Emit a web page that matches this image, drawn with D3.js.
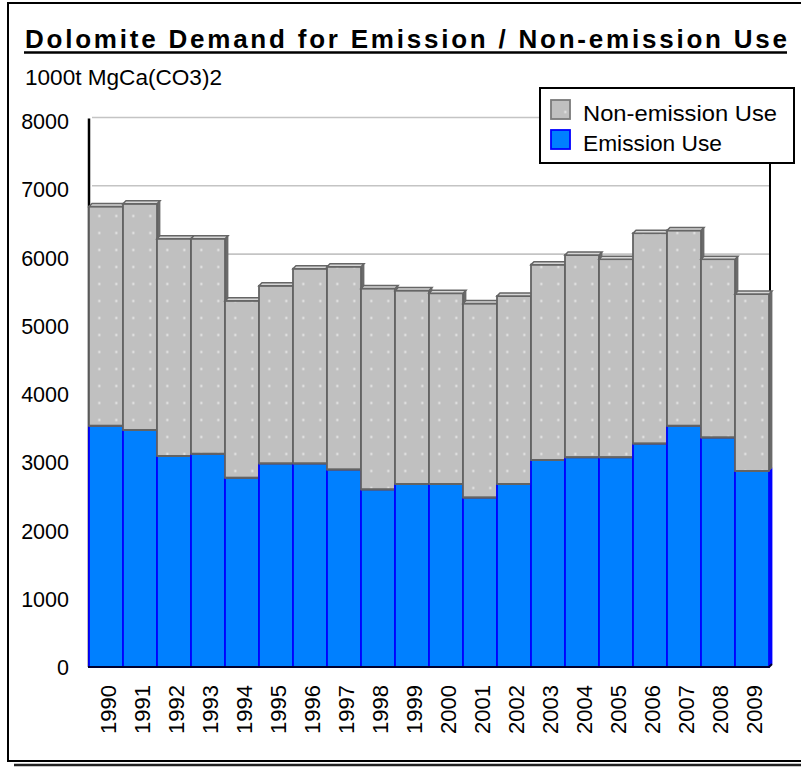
<!DOCTYPE html>
<html>
<head>
<meta charset="utf-8">
<script src="https://cdn.jsdelivr.net/npm/d3@7/dist/d3.min.js"></script>
<style>
  html, body { margin: 0; padding: 0; background: #fff; }
  svg { display: block; }
</style>
</head>
<body>
<svg id="chart" width="801" height="767"></svg>
<script>
// Dolomite demand, thousand tonnes MgCa(CO3)2
const years = ["1990","1991","1992","1993","1994","1995","1996","1997","1998","1999",
               "2000","2001","2002","2003","2004","2005","2006","2007","2008","2009"];
const emission    = [3530,3470,3090,3120,2770,2980,2980,2890,2600,2680,
                     2680,2480,2680,3030,3070,3070,3270,3530,3360,2870];
const nonEmission = [3210,3310,3180,3150,2590,2600,2850,2970,2940,2830,
                     2790,2840,2750,2860,2960,2900,3080,2860,2610,2590];
const yTicks = [0,1000,2000,3000,4000,5000,6000,7000,8000];
const seriesNames = ["Non-emission Use", "Emission Use"];

const svg = d3.select("#chart");
const depth = 3;
const font = "'Liberation Sans', Arial, sans-serif";

const x = d3.scaleBand().domain(years).range([89, 769]).padding(0);
const y = d3.scaleLinear().domain([0, 8000]).range([667, 120.5]);

// pattern: light dots on grey
const defs = svg.append("defs");
const pat = defs.append("pattern")
  .attr("id", "dots")
  .attr("patternUnits", "userSpaceOnUse")
  .attr("width", 17).attr("height", 17)
  .attr("x", x.range()[0] + 1.8)
  .attr("y", y(8000) - 15);
pat.append("rect").attr("width", 17).attr("height", 17).attr("fill", "#c0c0c0");
pat.append("rect").attr("x", 7.5).attr("y", 7.5).attr("width", 2).attr("height", 2).attr("fill", "#ececec");

// outer frame with shadow
svg.append("line").attr("x1", 14).attr("x2", 801).attr("y1", 765).attr("y2", 765)
  .attr("stroke", "#222").attr("stroke-width", 2.5);
svg.append("rect").attr("x", 8).attr("y", 3).attr("width", 830).attr("height", 758)
  .attr("fill", "#fff").attr("stroke", "#000").attr("stroke-width", 2);

// title
svg.append("text")
  .attr("x", 25).attr("y", 48)
  .attr("font-family", font).attr("font-size", 26).attr("font-weight", "bold")
  .attr("textLength", 762).attr("lengthAdjust", "spacing")
  .text("Dolomite Demand for Emission / Non-emission Use");
svg.append("line").attr("x1", 24).attr("x2", 787).attr("y1", 52.5).attr("y2", 52.5)
  .attr("stroke", "#000").attr("stroke-width", 2.5);

// unit label
svg.append("text")
  .attr("x", 25).attr("y", 85)
  .attr("font-family", font).attr("font-size", 22)
  .attr("textLength", 197).attr("lengthAdjust", "spacingAndGlyphs")
  .text("1000t MgCa(CO3)2");

const plot = svg.append("g");
const [xl, xr] = x.range();

// back wall gridlines
plot.selectAll("line.grid")
  .data(yTicks.filter(v => v > 0))
  .join("line").attr("class", "grid")
  .attr("x1", xl + depth).attr("x2", xr + 1)
  .attr("y1", v => y(v) - depth).attr("y2", v => y(v) - depth)
  .attr("stroke", "#c4c4c4").attr("stroke-width", 1.6);

// wall edges
plot.append("line").attr("x1", xr + 1).attr("x2", xr + 1)
  .attr("y1", y(8000) - depth).attr("y2", y(0) - depth)
  .attr("stroke", "#000").attr("stroke-width", 2);
plot.append("line").attr("x1", xl).attr("x2", xl)
  .attr("y1", y(8000) - depth + 1).attr("y2", y(0))
  .attr("stroke", "#000").attr("stroke-width", 2.5);

// stacked segments
const stack = years.map((yr, i) => ({
  year: yr,
  segs: [
    { y0: 0, y1: emission[i], fill: "#0080ff", edge: "#0000ff", side: "#0000ff" },
    { y0: emission[i], y1: emission[i] + nonEmission[i], fill: "url(#dots)", edge: "#636363", side: "#6a6a6a" }
  ]
}));

const bars = plot.selectAll("g.bar").data(stack).join("g").attr("class", "bar");

bars.each(function(d) {
  const g = d3.select(this);
  const x0 = x(d.year), x1 = x0 + x.bandwidth();
  d.segs.forEach(s => {
    const yt = y(s.y1), yb = y(s.y0);
    // right side face
    g.append("path")
      .attr("d", `M${x1},${yt}L${x1 + depth},${yt - depth}L${x1 + depth},${yb - depth}L${x1},${yb}Z`)
      .attr("fill", s.side).attr("stroke", s.side).attr("stroke-width", 0.8);
    // front face
    g.append("rect")
      .attr("x", x0).attr("y", yt).attr("width", x1 - x0).attr("height", yb - yt)
      .attr("fill", s.fill).attr("stroke", s.edge).attr("stroke-width", 1.8);
  });
  // top face of the stack
  const top = d.segs[1];
  const yt = y(top.y1);
  g.append("path")
    .attr("d", `M${x0},${yt}L${x0 + depth},${yt - depth}L${x1 + depth},${yt - depth}L${x1},${yt}Z`)
    .attr("fill", "#d6d6d6").attr("stroke", "#666").attr("stroke-width", 1.5);
  // segment boundary line
  const ym = y(top.y0);
  g.append("line").attr("x1", x0).attr("x2", x1).attr("y1", ym).attr("y2", ym)
    .attr("stroke", "#636363").attr("stroke-width", 2);
});

// floor line
plot.append("path")
  .attr("d", `M${xl - 1},${y(0)}L${xr},${y(0)}L${xr + depth},${y(0) - depth}`)
  .attr("fill", "none").attr("stroke", "#000030").attr("stroke-width", 2);

// y axis labels
const yAxis = svg.append("g")
  .attr("transform", "translate(72,1)")
  .call(d3.axisLeft(y).tickValues(yTicks).tickSize(0).tickPadding(3).tickFormat(d3.format("d")));
yAxis.select(".domain").remove();
yAxis.selectAll("text").attr("font-family", font).attr("font-size", 21.5).attr("fill", "#000");

// x axis labels
const xAxis = svg.append("g")
  .attr("transform", `translate(0,${y(0)})`)
  .call(d3.axisBottom(x).tickSize(0).tickPadding(0));
xAxis.select(".domain").remove();
xAxis.selectAll("text")
  .attr("font-family", font).attr("font-size", 22).attr("fill", "#000")
  .attr("text-anchor", "end")
  .attr("transform", "translate(2,18) rotate(-90)")
  .attr("x", 0).attr("y", 0).attr("dy", "0.35em");

// legend
const lg = svg.append("g").attr("transform", "translate(540,88)");
lg.append("rect").attr("width", 254).attr("height", 75)
  .attr("fill", "#fff").attr("stroke", "#000").attr("stroke-width", 2);
const legendItems = [
  { name: seriesNames[0], fill: "url(#dots)", stroke: "#7a7a7a", len: 194 },
  { name: seriesNames[1], fill: "#0080ff", stroke: "#0000ff", len: 139 }
];
const li = lg.selectAll("g.item").data(legendItems).join("g").attr("class", "item")
  .attr("transform", (d, i) => `translate(11,${12 + i * 30})`);
li.append("rect").attr("width", 19).attr("height", 19)
  .attr("fill", d => d.fill).attr("stroke", d => d.stroke).attr("stroke-width", 1.8);
li.append("text").attr("x", 32).attr("y", 13).attr("dy", "0.35em")
  .attr("font-family", font).attr("font-size", 22).attr("fill", "#000")
  .attr("textLength", d => d.len).attr("lengthAdjust", "spacingAndGlyphs")
  .text(d => d.name);
</script>
</body>
</html>
